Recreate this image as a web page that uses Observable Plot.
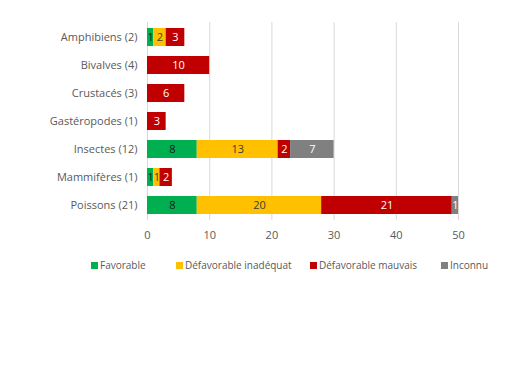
<!DOCTYPE html>
<html>
<head>
<meta charset="utf-8">
<script src="https://cdn.jsdelivr.net/npm/d3@7"></script>
<script src="https://cdn.jsdelivr.net/npm/@observablehq/plot@0.6"></script>
<style>
  html, body { margin: 0; padding: 0; background: #fff; }
  #chart { width: 523px; }
  .legend { position: relative; height: 16px; margin-top: 7px;
            font-family: "Open Sans", sans-serif; font-size: 10px; color: #595959; }
  .legend .item { position: absolute; top: 0; display: flex; align-items: center; white-space: nowrap; line-height: 16px; }
  .legend .sw { width: 7px; height: 7px; margin-right: 2px; }
</style>
</head>
<body>
<div id="chart"></div>
<script>
const categories = ["Amphibiens (2)", "Bivalves (4)", "Crustacés (3)", "Gastéropodes (1)", "Insectes (12)", "Mammifères (1)", "Poissons (21)"];
const seriesNames = ["Favorable", "Défavorable inadéquat", "Défavorable mauvais", "Inconnu"];
const favorable  = [1, 0, 0, 0, 8, 1, 8];
const inadequat  = [2, 0, 0, 0, 13, 1, 20];
const mauvais    = [3, 10, 6, 3, 2, 2, 21];
const inconnu    = [0, 0, 0, 0, 7, 0, 1];
const xTicks = [0, 10, 20, 30, 40, 50];
const colors = ["#00B050", "#FFC000", "#C00000", "#808080"];
const textColors = ["#1a1a1a", "#3a3a3a", "#ffffff", "#ffffff"];
const legendLeft = [91, 176, 310, 441];

const seriesValues = [favorable, inadequat, mauvais, inconnu];
const rows = [];
categories.forEach((c, i) => {
  seriesNames.forEach((s, j) => {
    const v = seriesValues[j][i];
    if (v > 0) rows.push({category: c, series: s, value: v, idx: j});
  });
});

const font = "Open Sans, sans-serif";
const plot = Plot.plot({
  width: 523,
  height: 250,
  marginLeft: 147,
  marginRight: 65,
  marginTop: 22,
  marginBottom: 30,
  style: {fontFamily: font, fontSize: "11px", color: "#595959", background: "#fff"},
  x: {domain: [0, 50], ticks: xTicks, label: null, grid: false},
  y: {domain: categories, padding: 0, label: null},
  color: {domain: seriesNames, range: colors},
  marks: [
    Plot.ruleX(xTicks, {stroke: "#d9d9d9", strokeWidth: 1}),
    Plot.barX(rows, Plot.stackX({y: "category", x: "value", fill: "series", order: seriesNames, insetTop: 5, insetBottom: 5})),
    Plot.text(rows, Plot.stackX({y: "category", x: "value", order: seriesNames, text: d => String(d.value),
      fill: d => textColors[d.idx], fontSize: 11, fontFamily: font})),
    Plot.axisX({ticks: xTicks, tickSize: 0, tickPadding: 11, label: null, fontSize: 11, fill: "#595959"}),
    Plot.axisY({tickSize: 0, tickPadding: 10, label: null, fontSize: 11, fill: "#595959"})
  ]
});
document.getElementById("chart").appendChild(plot);

const legend = document.createElement("div");
legend.className = "legend";
seriesNames.forEach((s, j) => {
  const item = document.createElement("div");
  item.className = "item";
  item.style.left = legendLeft[j] + "px";
  const sw = document.createElement("span");
  sw.className = "sw";
  sw.style.background = colors[j];
  const t = document.createElement("span");
  t.textContent = s;
  item.appendChild(sw); item.appendChild(t);
  legend.appendChild(item);
});
document.getElementById("chart").appendChild(legend);
</script>
</body>
</html>
